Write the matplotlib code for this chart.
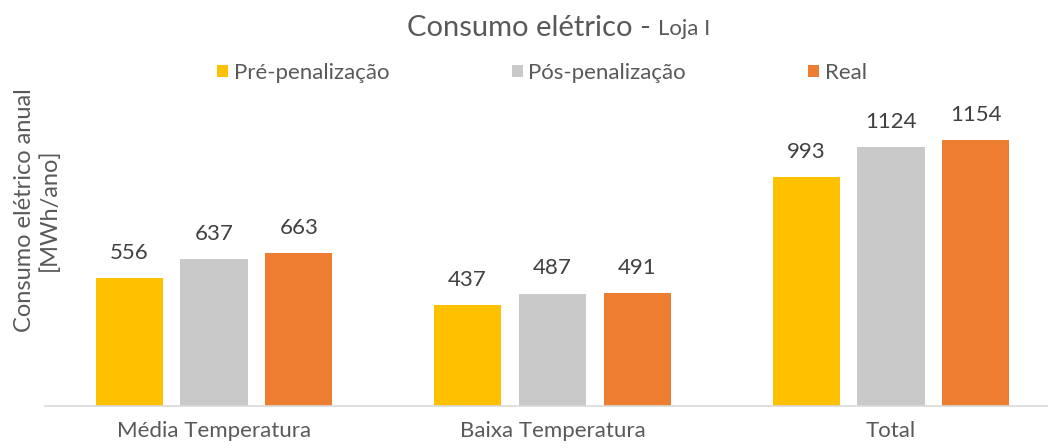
import matplotlib
matplotlib.use('Agg')

import numpy as np
import matplotlib.pyplot as plt

categorias = ['Média Temperatura', 'Baixa Temperatura', 'Total']
series = ['Pré-penalização', 'Pós-penalização', 'Real']
pre_penalizacao = [556, 437, 993]
pos_penalizacao = [637, 487, 1124]
real = [663, 491, 1154]
cores = ['#FFC000', '#C9C9C9', '#ED7D31']

plt.rcParams['font.family'] = ['Lato', 'DejaVu Sans']

fig = plt.figure(figsize=(10.48, 4.48), dpi=100)
ax = fig.add_axes([45 / 1048, 42 / 448, 1003 / 1048, 320 / 448])

x = np.arange(len(categorias))
largura = 0.198
desloc = 0.251
valores = [pre_penalizacao, pos_penalizacao, real]
for i, (nome, vals, cor) in enumerate(zip(series, valores, cores)):
    barras = ax.bar(x + (i - 1) * desloc, vals, largura, color=cor, label=nome, zorder=2)
    for b, v in zip(barras, vals):
        ax.annotate(str(v), (b.get_x() + b.get_width() / 2, v), xytext=(0, 11),
                    textcoords='offset points', ha='center', va='bottom',
                    fontsize=16, color='#404040')

ax.set_xlim((45 - 214) / 338.5, (1048 - 214) / 338.5)
ax.set_ylim(0, 1388)
ax.set_xticks(x)
ax.set_xticklabels(categorias, fontsize=16, color='#595959')
ax.tick_params(axis='x', length=0, pad=11)
ax.set_yticks([])
for lado in ['top', 'right', 'left']:
    ax.spines[lado].set_visible(False)
ax.spines['bottom'].set_color('#D9D9D9')
ax.spines['bottom'].set_linewidth(1.2)

fig.text(14 / 1048, 1 - 210 / 448, 'Consumo elétrico anual\n[MWh/ano]', rotation=90,
         ha='left', va='center', fontsize=17, color='#595959', linespacing=1.2,
         multialignment='center')

# titulo com duas partes de tamanhos diferentes
t1 = fig.text(407 / 1048, 1 - 28 / 448, 'Consumo elétrico - ', fontsize=21,
              color='#595959', ha='left', va='center')
fig.canvas.draw()
bb = t1.get_window_extent()
fig.text(bb.x1 / 1048, 1 - 29 / 448, 'Loja I', fontsize=16, color='#595959',
         ha='left', va='center')

fig.legend(loc='center', bbox_to_anchor=(542 / 1048, 1 - 73 / 448), ncol=3, frameon=False,
           fontsize=16, labelcolor='#595959', handlelength=0.5, handleheight=0.5,
           handletextpad=0.25, columnspacing=5.5)

plt.savefig('out.png', dpi=100)
